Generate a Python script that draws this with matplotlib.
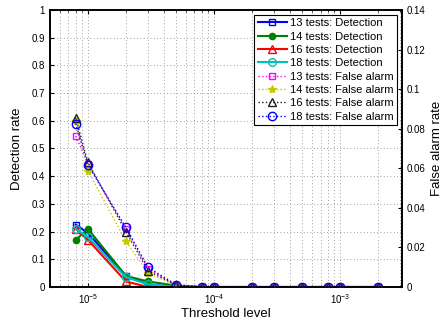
import numpy as np
import matplotlib
matplotlib.use('Agg')
import matplotlib.pyplot as plt
from matplotlib.ticker import LogLocator, NullFormatter

plt.rcParams['font.family'] = ['Liberation Sans', 'DejaVu Sans']
plt.rcParams['mathtext.fontset'] = 'custom'
plt.rcParams['mathtext.rm'] = 'Liberation Sans'
plt.rcParams['mathtext.it'] = 'Liberation Sans'
plt.rcParams['mathtext.bf'] = 'Liberation Sans:bold'

# threshold levels
thresholds = [8e-6, 1e-5, 2e-5, 3e-5, 5e-5, 8e-5, 1e-4, 2e-4, 3e-4, 5e-4, 8e-4, 1e-3, 2e-3]

# detection rate (left axis)
det_13 = [0.225, 0.195, 0.040, 0.010, 0.0, 0, 0, 0, 0, 0, 0, 0, 0]
det_14 = [0.170, 0.210, 0.040, 0.020, 0.005, 0, 0, 0, 0, 0, 0, 0, 0]
det_16 = [0.210, 0.170, 0.020, 0.000, 0.0, 0, 0, 0, 0, 0, 0, 0, 0]
det_18 = [0.210, 0.180, 0.035, 0.010, 0.0, 0, 0, 0, 0, 0, 0, 0, 0]

# false alarm rate (right axis)
fa_13 = [0.0763, 0.0623, 0.0294, 0.0091, 0.0010, 0, 0, 0, 0, 0, 0, 0, 0]
fa_14 = [0.0840, 0.0588, 0.0231, 0.0070, 0.0007, 0, 0, 0, 0, 0, 0, 0, 0]
fa_16 = [0.0854, 0.0630, 0.0280, 0.0081, 0.0010, 0, 0, 0, 0, 0, 0, 0, 0]
fa_18 = [0.0826, 0.0616, 0.0301, 0.0099, 0.0012, 0, 0, 0, 0, 0, 0, 0, 0]

fig = plt.figure(figsize=(4.44, 3.22), dpi=100)
ax1 = fig.add_axes([0.1126, 0.1087, 0.7928, 0.8603])
ax2 = ax1.twinx()

h = []
h += ax1.plot(thresholds, det_13, 'b-', marker='s', mfc='none', ms=5, lw=1.5, label='13 tests: Detection')
h += ax1.plot(thresholds, det_14, '-', color='#008000', marker='.', ms=9, lw=1.5, label='14 tests: Detection')
h += ax1.plot(thresholds, det_16, 'r-', marker='^', mfc='none', ms=6, lw=1.5, label='16 tests: Detection')
h += ax1.plot(thresholds, det_18, '-', color='#00bfbf', marker='o', mfc='none', ms=5.5, lw=1.5, label='18 tests: Detection')

h += ax2.plot(thresholds, fa_13, ':', color='#ff00ff', marker='s', mfc='none', ms=5, lw=1, label='13 tests: False alarm')
h += ax2.plot(thresholds, fa_14, ':', color='#c8c800', marker='*', ms=6, lw=1, label='14 tests: False alarm')
h += ax2.plot(thresholds, fa_16, ':', color='#202020', marker='^', mfc='none', ms=6, lw=1, label='16 tests: False alarm')
h += ax2.plot(thresholds, fa_18, ':', color='#0000ff', marker='o', mfc='none', ms=6, lw=1, label='18 tests: False alarm')

ax1.set_xscale('log')
ax1.set_xlim(5e-6, 3.1e-3)
ax1.set_ylim(0, 1)
ax1.set_yticks(np.arange(0, 1.01, 0.1))
ax1.set_yticklabels(['0', '0.1', '0.2', '0.3', '0.4', '0.5', '0.6', '0.7', '0.8', '0.9', '1'])
ax2.set_ylim(0, 0.14)
ax2.set_yticks(np.arange(0, 0.141, 0.02))
ax2.set_yticklabels(['0', '0.02', '0.04', '0.06', '0.08', '0.1', '0.12', '0.14'])

ax1.xaxis.set_major_locator(LogLocator(base=10, numticks=10))
ax1.xaxis.set_minor_locator(LogLocator(base=10, subs=np.arange(2, 10), numticks=10))
ax1.xaxis.set_minor_formatter(NullFormatter())

ax1.grid(True, which='major', axis='both', linestyle=(0, (1, 3)), color='0.5', lw=0.6)
ax1.grid(True, which='minor', axis='x', linestyle=(0, (1, 3)), color='0.5', lw=0.6)

for ax in (ax1, ax2):
    ax.tick_params(direction='in', labelsize=7, length=3, width=0.8)
    ax.tick_params(which='minor', direction='in', length=1.5)
    for s in ax.spines.values():
        s.set_linewidth(1.2)
ax1.tick_params(axis='x', top=True, which='both')

ax1.set_xlabel('Threshold level', fontsize=9.5, labelpad=2)
ax1.set_ylabel('Detection rate', fontsize=9.5, labelpad=6)
ax2.set_ylabel('False alarm rate', fontsize=9.5, labelpad=4)

leg = ax2.legend(handles=h, loc='upper right', fontsize=8, frameon=True, fancybox=False,
                 edgecolor='black', framealpha=1, handlelength=2.6, handletextpad=0.3,
                 labelspacing=0.3, borderpad=0.3, borderaxespad=0.45)
leg.get_frame().set_linewidth(0.8)

fig.savefig('out.png', dpi=100)
